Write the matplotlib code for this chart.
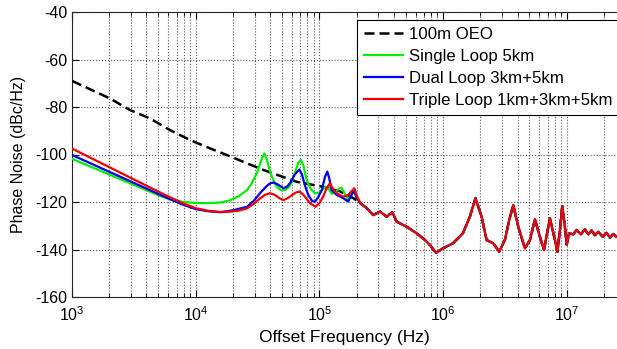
import matplotlib
matplotlib.use("Agg")
import matplotlib.pyplot as plt
from matplotlib.ticker import LogLocator, NullFormatter

plt.rcParams['font.family'] = ['Liberation Sans', 'DejaVu Sans']
plt.rcParams['mathtext.fontset'] = 'custom'
plt.rcParams['mathtext.rm'] = 'Liberation Sans'
plt.rcParams['mathtext.it'] = 'Liberation Sans:italic'
plt.rcParams['axes.unicode_minus'] = False

# ---- data ----
labels = ["100m OEO", "Single Loop 5km", "Dual Loop 3km+5km", "Triple Loop 1km+3km+5km"]

# shared tail (all loops coincide above ~200 kHz)
tail_f = [213796, 240991, 272898, 309030, 349945, 389045, 421697, 508159, 612350,
          714496, 783430, 877000, 1.0e6, 1.2023e6, 1.4454e6, 1.6482e6, 1.828e6,
          1.986e6, 2.0512e6, 2.2491e6, 2.5468e6, 2.8445e6, 3.1623e6, 3.4277e6,
          3.6983e6, 4.0551e6, 4.592e6, 5.0466e6, 5.5335e6, 6.0674e6, 6.5464e6,
          7.3114e6, 8.0353e6, 8.414e6, 8.8105e6, 9.2045e6, 9.6605e6, 1.0e7,
          1.0423e7, 1.13e7, 1.202e7, 1.303e7, 1.403e7, 1.493e7, 1.589e7, 1.69e7,
          1.799e7, 1.95e7, 2.103e7, 2.236e7, 2.377e7, 2.535e7, 2.7e7]
tail_pn = [-120.5, -122.5, -125.5, -124.0, -126.2, -124.3, -128.3, -130.4, -133.2,
           -136.0, -138.1, -141.4, -139.5, -137.4, -133.2, -126.2, -118.4,
           -124.0, -126.2, -136.0, -137.4, -140.9, -136.0, -127.6,
           -121.3, -130.4, -139.5, -136.0, -127.3, -134.6, -140.2,
           -126.9, -136.0, -141.0, -131.8, -121.7, -130.4, -138.0,
           -133.2, -133.6, -131.8, -133.6, -131.5, -133.6, -132.0, -134.0,
           -132.5, -134.6, -133.0, -135.0, -133.5, -134.7, -134.5]

oeo_f = [1000, 2028, 2944, 4266, 6194, 8995, 13062, 18365, 35237, 65615, 107152,
         146893, 190000]
oeo_pn = [-69.0, -76.4, -81.3, -84.8, -89.7, -93.9, -97.4, -100.5, -106.5, -111.5,
          -113.6, -115.5, -118.5]

single_f = [1000, 1585, 2512, 3981, 5012, 6310, 7943, 10000, 12590, 15850, 18920,
            22390, 26000, 28180, 31260, 33880, 35890, 37580, 39810, 42660, 45190,
            48980, 52480, 57540, 63100, 67610, 70790, 74130, 78890, 85110, 92260,
            100000, 104700, 112200, 118900, 125900, 134900, 142900, 151400,
            158500, 169800, 182000, 190500, 199500]
single_pn = [-101.8, -106.2, -110.6, -115.0, -117.2, -119.0, -120.0, -120.4, -120.5,
             -120.2, -119.3, -117.5, -115.0, -112.5, -107.8, -102.5, -99.5, -102.0,
             -107.0, -111.0, -113.5, -115.0, -115.0, -113.5, -108.0, -103.5, -102.3,
             -104.5, -110.7, -114.5, -116.3, -116.0, -115.0, -113.5, -114.5, -116.5,
             -116.0, -114.5, -114.0, -116.0, -119.0, -117.0, -115.5, -118.0]

dual_f = [1000, 1585, 2512, 3981, 6310, 7943, 10000, 12590, 15850, 19950, 26000,
          29510, 33110, 37150, 39810, 42460, 45710, 51290, 54950, 58880, 63100,
          68870, 72440, 75860, 81280, 87100, 92260, 97720, 104700, 110900,
          115900, 120200, 125600, 138000, 156000, 171000, 182000, 190500, 199500]
dual_pn = [-100.2, -104.9, -109.6, -114.3, -119.0, -121.2, -123.0, -123.9, -124.3,
           -123.5, -122.0, -119.5, -116.3, -113.5, -112.2, -111.8, -112.5, -114.2,
           -113.5, -111.5, -108.5, -106.3, -108.5, -112.5, -117.0, -119.5, -119.9,
           -118.0, -115.0, -109.5, -107.2, -110.0, -115.0, -117.0, -118.4, -119.8,
           -117.0, -115.0, -118.0]

triple_f = [1000, 1585, 2512, 3981, 6310, 7943, 10000, 12590, 15850, 18920, 22390,
            26000, 29510, 33110, 36310, 39810, 43650, 47860, 51290, 54950, 59700,
            64570, 69660, 75860, 83950, 93330, 100000, 107200, 114800, 121900,
            128800, 138000, 156000, 171000, 182000, 191900, 199500]
triple_pn = [-97.5, -102.7, -107.9, -113.1, -118.2, -120.6, -122.6, -123.7, -124.2,
             -124.1, -123.6, -122.7, -120.8, -118.5, -117.0, -116.3, -117.0, -118.5,
             -119.2, -118.5, -117.2, -116.0, -115.6, -117.5, -120.5, -122.0, -120.5,
             -117.8, -114.0, -112.1, -114.5, -116.3, -117.8, -117.0, -115.5, -114.2,
             -117.0]

xlim = (1e3, 2.55e7)
ylim = (-160, -40)
yticks = [-160, -140, -120, -100, -80, -60, -40]

# ---- figure ----
fig = plt.figure(figsize=(6.17, 3.49), dpi=100)
ax = fig.add_axes([72 / 617, 52 / 349, 545 / 617, 285 / 349])

ax.plot(oeo_f + tail_f, oeo_pn + tail_pn, color='black', lw=1.8, dashes=(4, 2),
        label=labels[0], zorder=3)
ax.plot(single_f + tail_f, single_pn + tail_pn, color='#00ee00', lw=1.6,
        label=labels[1], zorder=4)
ax.plot(dual_f + tail_f, dual_pn + tail_pn, color='#0000ee', lw=1.6,
        label=labels[2], zorder=5)
ax.plot(triple_f + tail_f, triple_pn + tail_pn, color='#ee0000', lw=1.6,
        label=labels[3], zorder=6)

ax.set_xscale('log')
ax.set_xlim(*xlim)
ax.set_ylim(*ylim)
ax.set_yticks(yticks)
ax.xaxis.set_major_locator(LogLocator(base=10, numticks=10))
ax.xaxis.set_minor_locator(LogLocator(base=10, subs=range(2, 10), numticks=100))
ax.xaxis.set_minor_formatter(NullFormatter())

ax.grid(True, which='major', axis='both', linestyle=':', color='0.35', lw=0.8)
ax.grid(True, which='minor', axis='x', linestyle=':', color='0.35', lw=0.8)

ax.tick_params(which='both', direction='in', top=True, right=False, labelsize=11.5,
               colors='black')
ax.tick_params(axis='x', which='major', pad=6)
ax.tick_params(which='major', length=5)
ax.tick_params(which='minor', length=3)
for s in ['left', 'bottom', 'top']:
    ax.spines[s].set_color('0.15')
    ax.spines[s].set_linewidth(0.8)
ax.spines['right'].set_visible(False)

ax.set_xlabel('Offset Frequency (Hz)', fontsize=12.5, labelpad=4)
ax.set_ylabel('Phase Noise (dBc/Hz)', fontsize=11.5)
ax.yaxis.set_label_coords(-0.085, 0.5)

leg = ax.legend(loc='upper left', bbox_to_anchor=(357 / 617, 1 - 20 / 349),
                bbox_transform=fig.transFigure, fontsize=12.1, fancybox=False,
                framealpha=1, edgecolor='black', handlelength=2.3,
                handletextpad=0.35, borderpad=0.42, labelspacing=0.42,
                borderaxespad=0)
leg.get_frame().set_linewidth(0.8)
leg.set_zorder(10)

fig.savefig('out.png', dpi=100)
